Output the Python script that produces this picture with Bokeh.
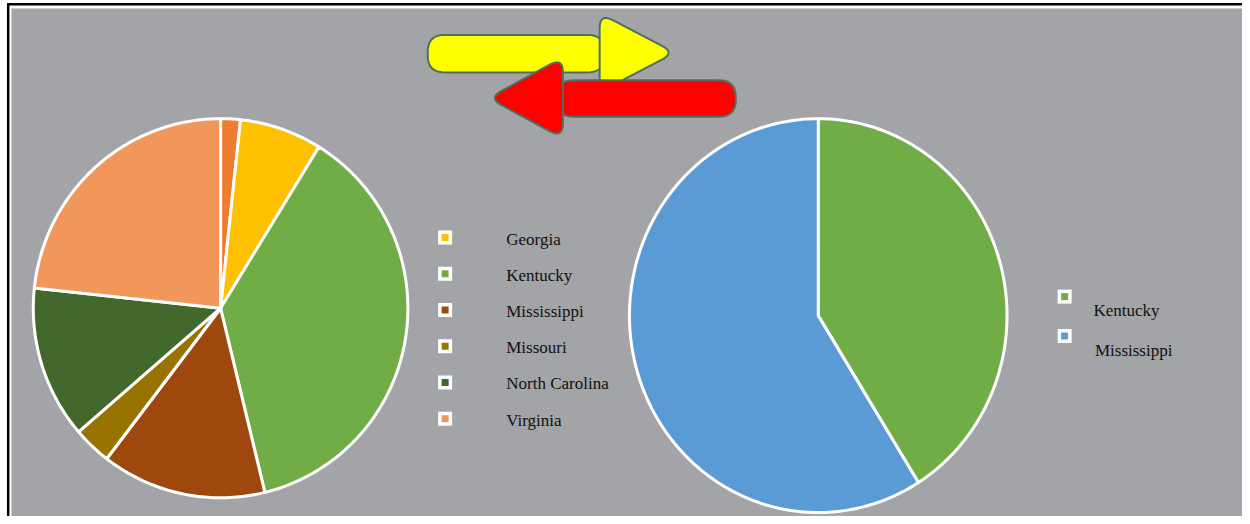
import numpy as np
from bokeh.plotting import figure
from bokeh.models import Range1d
from bokeh.core.properties import value
from bokeh.embed import file_html
from bokeh.resources import INLINE

# ---- data ----
left_states = ["", "Georgia", "Kentucky", "Mississippi", "Missouri", "North Carolina", "Virginia"]
left_values = [1.7, 7.1, 37.4, 14.2, 3.3, 13.0, 23.3]
left_colors = ["#ED7D31", "#FFC000", "#70AD47", "#9E480E", "#997300", "#43682B", "#F1975A"]

right_states = ["Kentucky", "Mississippi"]
right_values = [41.1, 58.9]
right_colors = ["#70AD47", "#5B9BD5"]

W, H = 1250, 524


def Y(py):
    return H - py


p = figure(width=1242, height=516, output_backend="svg", toolbar_location=None,
           x_range=Range1d(0, W), y_range=Range1d(0, H),
           min_border=0, min_border_left=0, min_border_right=0,
           min_border_top=0, min_border_bottom=0)
p.axis.visible = False
p.grid.visible = False
p.outline_line_color = None
p.background_fill_color = "white"
p.border_fill_color = "white"

# background frame
p.quad(left=[7], right=[W], top=[Y(2.5)], bottom=[Y(5)], fill_color="black", line_color=None)
p.quad(left=[6.5], right=[9], top=[Y(2.5)], bottom=[Y(H)], fill_color="black", line_color=None)
p.quad(left=[11], right=[W], top=[Y(8)], bottom=[Y(H)], fill_color="#A3A4A8", line_color=None)


def pie(cx, cy, rx, ry, vals, colors):
    tot = float(sum(vals))
    cum = np.concatenate([[0.0], np.cumsum(vals)]) / tot * 2 * np.pi
    xs, ys = [], []
    for i in range(len(vals)):
        t = np.linspace(cum[i], cum[i + 1], max(4, int((cum[i + 1] - cum[i]) * 60)))
        px = np.concatenate([[cx], cx + rx * np.sin(t)])
        py = np.concatenate([[cy], cy - ry * np.cos(t)])
        xs.append(list(px))
        ys.append(list(Y(py)))
    p.patches(xs, ys, fill_color=colors, line_color="white", line_width=3, line_join="round")


pie(221.5, 312.5, 188.5, 192.5, left_values, left_colors)
pie(823, 320, 190, 200, right_values, right_colors)


# arrows (decorative shapes)
def rounded(pts, r, n=12):
    pts = [np.array(q, dtype=float) for q in pts]
    N = len(pts)
    ox, oy = [], []
    for i in range(N):
        P, A, B = pts[i], pts[i - 1], pts[(i + 1) % N]
        la, lb = np.linalg.norm(A - P), np.linalg.norm(B - P)
        ra, rb = min(r, la / 2), min(r, lb / 2)
        p0 = P + (A - P) / la * ra
        p1 = P + (B - P) / lb * rb
        for t in np.linspace(0, 1, n):
            q = (1 - t) ** 2 * p0 + 2 * (1 - t) * t * P + t ** 2 * p1
            ox.append(q[0])
            oy.append(Y(q[1]))
    return ox, oy


edge = "#4E7060"
shapes = [
    ([(430, 35), (608, 35), (608, 73), (430, 73)], 17, "#FFFF00"),
    ([(603, 13), (679, 53), (603, 93)], 15, "#FFFF00"),
    ([(560, 81), (740, 81), (740, 118), (560, 118)], 17, "#FF0000"),
    ([(566, 58), (566, 140), (491, 99)], 15, "#FF0000"),
]
for pts, r, col in shapes:
    sx, sy = rounded(pts, r)
    p.patch(sx, sy, fill_color=col, line_color=edge, line_width=2)

# legends
font = value("Liberation Serif")
left_named = [(s, c) for s, c in zip(left_states, left_colors) if s]
lx = [447.5] * len(left_named)
ly = [240.7 + 36.8 * i for i in range(len(left_named))]
p.scatter(lx, [Y(v) for v in ly], marker="square", size=14, fill_color="white", line_color=None)
p.scatter(lx, [Y(v) for v in ly], marker="square", size=7, fill_color=[c for _, c in left_named], line_color=None)
p.text([509] * len(left_named), [Y(v + 1.5) for v in ly], text=[s for s, _ in left_named],
       text_font=font, text_font_size="17px", text_color="#111111", text_baseline="middle")

rx_ = [1071] * len(right_states)
ry_ = [300.7 + 40 * i for i in range(len(right_states))]
p.scatter(rx_, [Y(v) for v in ry_], marker="square", size=14, fill_color="white", line_color=None)
p.scatter(rx_, [Y(v) for v in ry_], marker="square", size=7, fill_color=right_colors, line_color=None)
p.text([1100, 1101.5], [Y(v + 14.5) for v in ry_], text=right_states,
       text_font=font, text_font_size="17px", text_color="#111111", text_baseline="middle")

open("out.html", "w").write(file_html(p, INLINE))
